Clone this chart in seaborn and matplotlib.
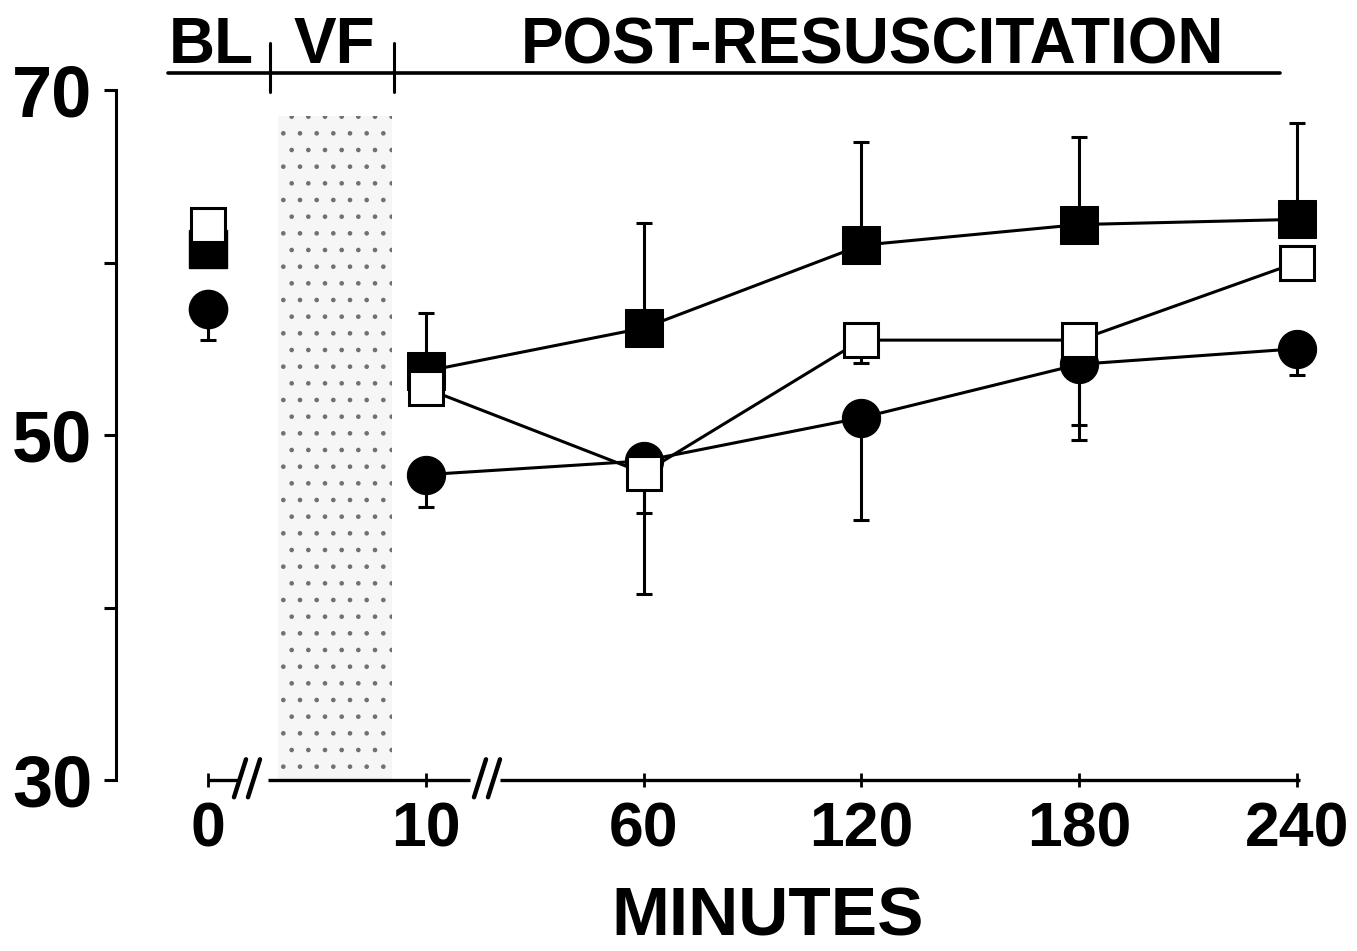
import numpy as np
import pandas as pd
import matplotlib
matplotlib.use("Agg")
import matplotlib.pyplot as plt
import seaborn as sns

# ---------------- data ----------------
time_labels = ["0", "10", "60", "120", "180", "240"]
filled_sq_mean = [60.8, 53.7, 56.2, 61.0, 62.2, 62.5]
filled_sq_err_up = [0.0, 3.4, 6.1, 6.0, 5.1, 5.6]
open_sq_mean = [62.2, 52.7, 47.8, 55.5, 55.5, 60.0]
open_sq_err_down = [0.0, 0.0, 7.0, 1.3, 4.9, 0.4]
circle_mean = [57.3, 47.7, 48.5, 51.0, 54.1, 55.0]
circle_err_down = [1.8, 1.9, 3.0, 5.9, 4.4, 1.5]
y_ticks_major = [30, 50, 70]
y_ticks_minor = [40, 60]
phase_labels = ["BL", "VF", "POST-RESUSCITATION"]
x_label = "MINUTES"

sns.set_theme(style="white")
plt.rcParams["font.family"] = ["Liberation Sans", "DejaVu Sans"]
for k in ["text.color", "axes.labelcolor", "xtick.color", "ytick.color", "axes.edgecolor"]:
    plt.rcParams[k] = "black"

W, H = 1357, 951
fig = plt.figure(figsize=(W / 100, H / 100), dpi=100)
px0, pxs = 208.0, 217.8   # pixel of position 0 and pixels per category step
left_px, right_px, top_px, bot_px = 116, 1330, 90, 780
ax = fig.add_axes([left_px / W, 1 - bot_px / H, (right_px - left_px) / W, (bot_px - top_px) / H])
ax.set_xlim((left_px - px0) / pxs, (right_px - px0) / pxs)
ax.set_ylim(30, 70)

pos = np.arange(len(time_labels))
df = pd.DataFrame({
    "pos": pos,
    "filled": filled_sq_mean,
    "open": open_sq_mean,
    "circle": circle_mean,
})
post = df.iloc[1:]
bl = df.iloc[:1]

lw = 2.2
ms = 29
# error bars (one-sided)
ax.errorbar(pos, circle_mean, yerr=[circle_err_down, np.zeros(len(pos))], fmt="none",
            ecolor="black", elinewidth=2.2, capsize=6, capthick=2.2, zorder=2)
ax.errorbar(pos, filled_sq_mean, yerr=[np.zeros(len(pos)), filled_sq_err_up], fmt="none",
            ecolor="black", elinewidth=2.2, capsize=6, capthick=2.2, zorder=3)
ax.errorbar(pos, open_sq_mean, yerr=[open_sq_err_down, np.zeros(len(pos))], fmt="none",
            ecolor="black", elinewidth=2.2, capsize=6, capthick=2.2, zorder=4)

# lines + markers for post-resuscitation
sns.lineplot(data=post, x="pos", y="circle", ax=ax, color="black", lw=lw, marker="o",
             markersize=ms * 0.95, markerfacecolor="black", markeredgecolor="black", zorder=5)
sns.lineplot(data=post, x="pos", y="filled", ax=ax, color="black", lw=lw, marker="s",
             markersize=ms * 0.92, markerfacecolor="black", markeredgecolor="black", zorder=6)
sns.lineplot(data=post, x="pos", y="open", ax=ax, color="black", lw=lw, marker="s",
             markersize=ms * 0.85, markerfacecolor="white", markeredgecolor="black",
             markeredgewidth=2.2, zorder=7)
# baseline markers (not connected)
ax.plot(bl["pos"], bl["circle"], "o", color="black", markersize=ms * 0.95, zorder=5)
ax.plot(bl["pos"], bl["filled"], "s", color="black", markersize=ms * 0.92, zorder=6)
ax.plot(bl["pos"], bl["open"], "s", markerfacecolor="white", markeredgecolor="black",
        markeredgewidth=2.2, markersize=ms * 0.85, zorder=7)

# VF shaded region
vf_x0, vf_x1 = (278 - px0) / pxs, (392 - px0) / pxs
plt.rcParams["hatch.color"] = "#707070"
plt.rcParams["hatch.linewidth"] = 0.9
ax.fill_between([vf_x0, vf_x1], 30, 68.5, facecolor="#f6f6f6", edgecolor="#707070",
                hatch=".", linewidth=0, zorder=1)

# axes styling
for s in ["top", "right", "bottom"]:
    ax.spines[s].set_visible(False)
ax.spines["left"].set_bounds(30, 70)
ax.spines["left"].set_linewidth(2.2)
ax.spines["left"].set_color("black")
ax.set_yticks(y_ticks_major)
ax.set_yticks(y_ticks_minor, minor=True)
ax.set_yticklabels([str(v) for v in y_ticks_major], fontsize=52, fontweight="bold")
ax.tick_params(axis="y", which="both", direction="out", length=9, width=2.2, color="black",
               pad=8, left=True)
ax.set_xticks(pos)
ax.set_xticklabels(time_labels, fontsize=45, fontweight="bold")
ax.tick_params(axis="x", which="both", direction="inout", length=10, width=2, color="black",
               pad=10, bottom=True)
ax.set_xlabel("")
ax.set_ylabel("")
ax.grid(False)

# x axis line with breaks
def px2x(p):
    return (p - px0) / pxs

for a, b in [(208, 240), (268, 470), (500, 1300)]:
    ax.plot([px2x(a), px2x(b)], [30, 30], color="black", lw=2.4, clip_on=False, zorder=3,
            solid_capstyle="butt")
for c in [247, 487]:
    for dx in [-7, 7]:
        xc = c + dx
        ax.plot([px2x(xc - 6), px2x(xc + 6)], [29.0, 31.2], color="black", lw=3.2,
                clip_on=False, zorder=3)

# top phase bar
ybar = 71.0
ax.plot([px2x(168), px2x(1280)], [ybar, ybar], color="black", lw=2.6, clip_on=False)
for xp in [270, 394]:
    ax.plot([px2x(xp), px2x(xp)], [69.9, 72.7], color="black", lw=2.2, clip_on=False)
text_kw = dict(fontsize=46, fontweight="bold", ha="center", va="baseline", clip_on=False)
ax.text(px2x(211), 71.55, phase_labels[0], **text_kw)
ax.text(px2x(334), 71.55, phase_labels[1], **text_kw)
ax.text(px2x(872), 71.55, phase_labels[2], **text_kw)

fig.text(768 / W, 1 - 949 / H, x_label, fontsize=50, fontweight="bold", ha="center",
         va="bottom")

fig.savefig("out.png", dpi=100, facecolor="white")
